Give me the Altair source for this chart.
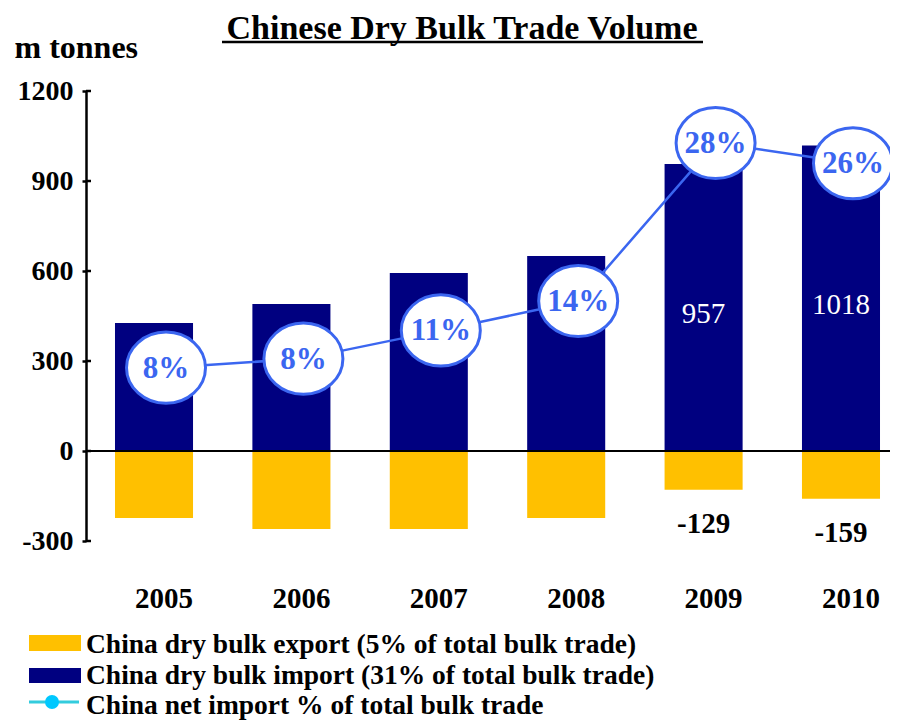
import altair as alt
import pandas as pd

# ---------------- data ----------------
years = ["2005", "2006", "2007", "2008", "2009", "2010"]
imports = [427, 490, 593, 650, 957, 1018]
exports = [-223, -260, -260, -223, -129, -159]
net_import_pct = [8.1, 8.9, 11.4, 14.0, 28.0, 26.2]
pct_labels = ["8%", "8%", "11%", "14%", "28%", "26%"]
labeled_years = ["2009", "2010"]
y_ticks = [-300, 0, 300, 600, 900, 1200]
export_name = "China dry bulk export (5% of total bulk trade)"
import_name = "China dry bulk import (31% of total bulk trade)"
line_name = "China net import % of total bulk trade"
title_text = "Chinese Dry Bulk Trade Volume"
y_title = "m tonnes"

# ---------------- style ----------------
FONT = "Liberation Serif"
NAVY = "#000080"
GOLD = "#FFC000"
BLUE = "#3B66F0"
CYAN = "#33CCDD"
DOT = "#00C8FF"
W, H = 804, 450
XRANGE = 823

bars_df = pd.DataFrame({
    "year": years * 2,
    "value": exports + imports,
    "series": ["export"] * len(years) + ["import"] * len(years),
})
lab_idx = [years.index(y) for y in labeled_years]
lab_df = pd.DataFrame({
    "year": labeled_years,
    "imp": [imports[i] for i in lab_idx],
    "exp": [exports[i] for i in lab_idx],
})
pct_df = pd.DataFrame({"year": years, "pct": net_import_pct, "label": pct_labels})
ticks_df = pd.DataFrame({"value": y_ticks})
zero_df = pd.DataFrame({"value": [0]})
one = pd.DataFrame({"a": [0]})

x_scale = alt.Scale(range=[0, XRANGE], paddingInner=0.432, paddingOuter=0.211)
x_axis = alt.Axis(title=None, domain=False, ticks=False, labelFont=FONT,
                  labelFontSize=29, labelFontWeight="bold", labelColor="black",
                  labelAngle=0, labelBaseline="alphabetic", labelPadding=66,
                  labelOffset=10)
x_enc = alt.X("year:N", sort=years, scale=x_scale, axis=x_axis)
y_scale = alt.Scale(domain=[-300, 1200], nice=False, zero=False)
y_axis = alt.Axis(values=y_ticks, title=y_title, titleAngle=0, titleX=-72,
                  titleY=-34, titleAlign="left", titleBaseline="alphabetic",
                  titleFont=FONT, titleFontSize=32, titleFontWeight="bold",
                  titleColor="black", labelFont=FONT, labelFontSize=28,
                  labelFontWeight="bold", labelColor="black", labelPadding=9,
                  labelExpr="'' + datum.value",
                  tickSize=4, tickWidth=2.5, tickColor="black",
                  domainColor="black", domainWidth=2.5, grid=False)


def y_main(field):
    return alt.Y(field, scale=y_scale, axis=y_axis, stack=None)


bars = alt.Chart(bars_df).mark_bar().encode(
    x=x_enc,
    y=y_main("value:Q"),
    y2=alt.datum(0),
    color=alt.Color("series:N", scale=alt.Scale(domain=["export", "import"],
                                                range=[GOLD, NAVY]), legend=None),
)

inner_ticks = alt.Chart(ticks_df).mark_rule(color="black", strokeWidth=2.5).encode(
    y=y_main("value:Q"),
    x=alt.value(0), x2=alt.value(5),
)

zero_rule = alt.Chart(zero_df).mark_rule(color="black", strokeWidth=2).encode(
    y=y_main("value:Q"),
    x=alt.value(0), x2=alt.value(812),
)

imp_labels = alt.Chart(lab_df).transform_calculate(
    mid="datum.imp / 2", lbl="'' + datum.imp"
).mark_text(font=FONT, fontSize=29, color="white", baseline="middle", dy=7).encode(
    x=x_enc,
    y=y_main("mid:Q"),
    text="lbl:N",
)

exp_labels = alt.Chart(lab_df).transform_calculate(
    lbl="'' + datum.exp"
).mark_text(
    font=FONT, fontSize=29, fontWeight="bold", color="black", baseline="middle", dy=34
).encode(
    x=x_enc,
    y=y_main("exp:Q"),
    text="lbl:N",
)

main = alt.layer(bars, inner_ticks, zero_rule, imp_labels, exp_labels)

pct_scale = alt.Scale(domain=[-7.25, 32.6], nice=False, zero=False)
ELLIPSE = "M-1,0 A1,0.9 0 1,1 1,0 A1,0.9 0 1,1 -1,0 Z"


def y_pct():
    return alt.Y("pct:Q", scale=pct_scale, axis=None)


pct_line = alt.Chart(pct_df).mark_line(color=BLUE, strokeWidth=2.5, xOffset=12).encode(
    x=x_enc, y=y_pct(),
)
pct_pts = alt.Chart(pct_df).mark_point(
    shape=ELLIPSE, size=79 * 79, filled=True, fill="white", stroke=BLUE,
    strokeWidth=3, opacity=1, xOffset=12,
).encode(x=x_enc, y=y_pct())
pct_txt = alt.Chart(pct_df).mark_text(
    font=FONT, fontSize=31, fontWeight="bold", color=BLUE, baseline="middle", dx=12, dy=1
).encode(x=x_enc, y=y_pct(), text="label:N")

pct_layer = alt.layer(pct_line, pct_pts, pct_txt)

# ---------------- title & legend decorations ----------------
title = alt.Chart(one).mark_text(
    text=title_text, font=FONT, fontSize=34, fontWeight="bold", color="black",
    align="center", baseline="alphabetic",
).encode(x=alt.value(376), y=alt.value(-52))
underline = alt.Chart(one).mark_rule(color="black", strokeWidth=2.5).encode(
    x=alt.value(136), x2=alt.value(617), y=alt.value(-49))

LEG_FS = 27.5
sw1 = alt.Chart(one).mark_rect(color=GOLD).encode(
    x=alt.value(-57), x2=alt.value(-5), y=alt.value(544), y2=alt.value(560))
tx1 = alt.Chart(one).mark_text(text=export_name, font=FONT, fontSize=LEG_FS,
                               fontWeight="bold", color="black", align="left",
                               baseline="alphabetic").encode(x=alt.value(0), y=alt.value(562))
sw2 = alt.Chart(one).mark_rect(color=NAVY).encode(
    x=alt.value(-57), x2=alt.value(-5), y=alt.value(577), y2=alt.value(592))
tx2 = alt.Chart(one).mark_text(text=import_name, font=FONT, fontSize=LEG_FS,
                               fontWeight="bold", color="black", align="left",
                               baseline="alphabetic").encode(x=alt.value(0), y=alt.value(593))
ln3 = alt.Chart(one).mark_rule(color=CYAN, strokeWidth=3).encode(
    x=alt.value(-57), x2=alt.value(-7), y=alt.value(611))
dt3 = alt.Chart(one).mark_point(shape="circle", filled=True, color=DOT, size=196,
                                opacity=1).encode(x=alt.value(-34), y=alt.value(611))
tx3 = alt.Chart(one).mark_text(text=line_name, font=FONT, fontSize=LEG_FS,
                               fontWeight="bold", color="black", align="left",
                               baseline="alphabetic").encode(x=alt.value(0), y=alt.value(623))

chart = alt.layer(
    main, pct_layer, title, underline, sw1, tx1, sw2, tx2, ln3, dt3, tx3
).resolve_scale(y="independent").properties(
    width=W, height=H,
    autosize=alt.AutoSizeParams(type="none"),
    padding={"left": 78, "top": 83, "right": 0, "bottom": 181},
    background="white",
).configure_view(stroke=None)

chart.save("out.html", embed_options={"renderer": "svg", "actions": False})
